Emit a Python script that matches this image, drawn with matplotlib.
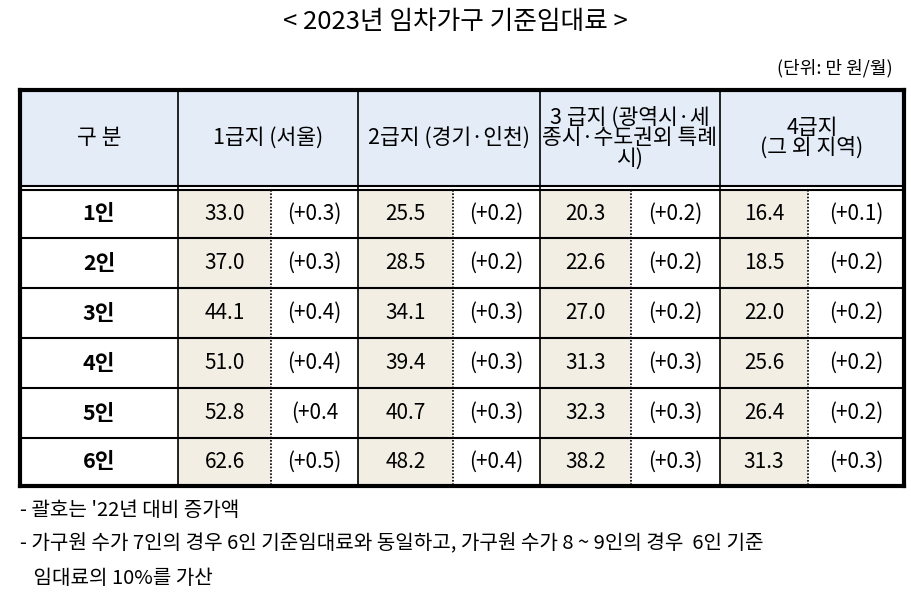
import matplotlib
matplotlib.use("Agg")
import matplotlib.pyplot as plt
from matplotlib.patches import Rectangle

plt.rcParams['font.family'] = ['Noto Sans CJK KR', 'DejaVu Sans']

title = "< 2023년 임차가구 기준임대료 >"
unit = "(단위: 만 원/월)"
headers = ["구 분", "1급지 (서울)", "2급지 (경기·인천)", "3 급지 (광역시·세\n종시·수도권외 특례\n시)", "4급지\n(그 외 지역)"]
rows = ["1인", "2인", "3인", "4인", "5인", "6인"]
values = [[33.0, 25.5, 20.3, 16.4],
          [37.0, 28.5, 22.6, 18.5],
          [44.1, 34.1, 27.0, 22.0],
          [51.0, 39.4, 31.3, 25.6],
          [52.8, 40.7, 32.3, 26.4],
          [62.6, 48.2, 38.2, 31.3]]
changes = [["(+0.3)", "(+0.2)", "(+0.2)", "(+0.1)"],
           ["(+0.3)", "(+0.2)", "(+0.2)", "(+0.2)"],
           ["(+0.4)", "(+0.3)", "(+0.2)", "(+0.2)"],
           ["(+0.4)", "(+0.3)", "(+0.3)", "(+0.2)"],
           ["(+0.4", "(+0.3)", "(+0.3)", "(+0.2)"],
           ["(+0.5)", "(+0.4)", "(+0.3)", "(+0.3)"]]
notes = ["- 괄호는 '22년 대비 증가액",
         "- 가구원 수가 7인의 경우 6인 기준임대료와 동일하고, 가구원 수가 8 ~ 9인의 경우  6인 기준",
         "   임대료의 10%를 가산"]

W, H = 911, 599
fig = plt.figure(figsize=(W/100, H/100), dpi=100)
ax = fig.add_axes([0, 0, 1, 1])
ax.set_xlim(0, W); ax.set_ylim(H, 0); ax.axis('off')

cols = [20, 178, 358, 540, 720, 904]
subs = [271, 453, 631, 808]
hy0, hy1 = 90, 186
ry = [190, 238, 288, 338, 388, 438, 486]
hdr_c = "#E4ECF7"; val_c = "#F2EEE4"

ax.text(W/2, 22, title, ha='center', va='center', fontsize=18.5)
ax.text(893, 68, unit, ha='right', va='center', fontsize=13)

ax.add_patch(Rectangle((cols[0], hy0), cols[-1]-cols[0], hy1-hy0, color=hdr_c, lw=0))
for i, h in enumerate(headers):
    ax.text((cols[i]+cols[i+1])/2, (hy0+hy1)/2, h, ha='center', va='center',
            fontsize=15.5, linespacing=0.9, fontweight='medium')

for r, name in enumerate(rows):
    y0, y1 = ry[r], ry[r+1]; yc = (y0+y1)/2
    ax.text((cols[0]+cols[1])/2, yc, name, ha='center', va='center', fontsize=15.5, fontweight='bold')
    for c in range(4):
        ax.add_patch(Rectangle((cols[c+1], y0), subs[c]-cols[c+1], y1-y0, color=val_c, lw=0))
        ax.text((cols[c+1]+subs[c])/2, yc, f"{values[r][c]:.1f}", ha='center', va='center', fontsize=15)
        ax.text((subs[c]+cols[c+2])/2, yc, changes[r][c], ha='center', va='center', fontsize=15)

ax.plot([cols[0], cols[-1]], [hy0, hy0], color='black', lw=3)
ax.plot([cols[0], cols[-1]], [hy1, hy1], color='black', lw=1.5)
ax.plot([cols[0], cols[-1]], [hy1+3.5, hy1+3.5], color='black', lw=1.5)
for y in ry[1:-1]:
    ax.plot([cols[0], cols[-1]], [y, y], color='black', lw=1.5)
ax.plot([cols[0], cols[-1]], [ry[-1], ry[-1]], color='black', lw=3)
for i, x in enumerate(cols):
    lw = 3 if i in (0, len(cols)-1) else 1.2
    ax.plot([x, x], [hy0, ry[-1]], color='black', lw=lw)
for x in subs:
    ax.plot([x, x], [ry[0], ry[-1]], color='black', lw=1.2, linestyle=(0, (1, 1)))

for i, n in enumerate(notes):
    ax.text(20, 510 + i*34, n, ha='left', va='center', fontsize=14.5)

fig.savefig("out.png", dpi=100)
